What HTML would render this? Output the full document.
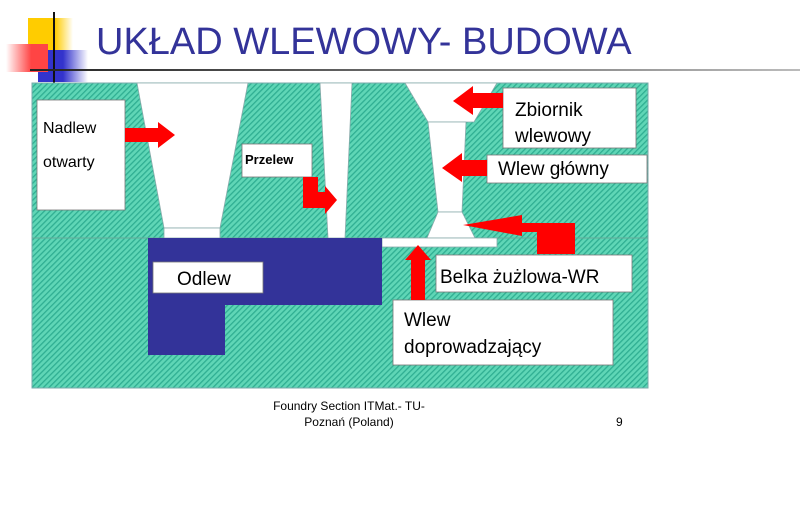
<!DOCTYPE html>
<html><head><meta charset="utf-8"><style>
body{margin:0;width:800px;height:500px;background:#fff;overflow:hidden;font-family:"Liberation Sans",sans-serif}
</style></head><body>
<svg width="800" height="500" viewBox="0 0 800 500" xmlns="http://www.w3.org/2000/svg" font-family="Liberation Sans, sans-serif">
<defs>
<pattern id="h" width="4" height="4" patternUnits="userSpaceOnUse" patternTransform="rotate(45)">
<rect width="4" height="4" fill="#5fd6b6"/><rect width="1.3" height="4" fill="#2fae92"/>
</pattern>
<linearGradient id="gy" x1="0" x2="1"><stop offset="0.6" stop-color="#ffcc00"/><stop offset="1" stop-color="#fff"/></linearGradient>
<linearGradient id="gb" x1="0" x2="1"><stop offset="0.5" stop-color="#3333cc"/><stop offset="1" stop-color="#fff"/></linearGradient>
<linearGradient id="gr" x1="1" x2="0"><stop offset="0.4" stop-color="#ff4444"/><stop offset="1" stop-color="#fff"/></linearGradient>
<linearGradient id="gl" x1="0" x2="1"><stop offset="0" stop-color="#222"/><stop offset="1" stop-color="#bbb"/></linearGradient>
</defs>
<rect x="28" y="18" width="45" height="32" fill="url(#gy)"/>
<rect x="38" y="50" width="50" height="32" fill="url(#gb)"/>
<rect x="6" y="44" width="42" height="28" fill="url(#gr)"/>
<rect x="53" y="12" width="2" height="72" fill="#111"/>
<rect x="30" y="69" width="770" height="2" fill="url(#gl)"/>
<text x="96" y="54" font-size="38" fill="#333399">UKŁAD WLEWOWY- BUDOWA</text>
<rect x="32" y="83" width="616" height="305" fill="url(#h)" stroke="#7aa" stroke-width="1"/>
<line x1="32" y1="238" x2="648" y2="238" stroke="#6a9" stroke-width="1"/>
<g fill="#fff" stroke="#8aa" stroke-width="0.8">
<polygon points="137,83 248,83 220,228 164,228"/>
<rect x="164" y="228" width="56" height="10"/>
<polygon points="320,83 352,83 345,238 328,238"/>
<polygon points="405,83 497,83 474,122 428,122"/>
<polygon points="428,122 466,122 462,212 438,212"/>
<polygon points="438,212 462,212 475,238 427,238"/>
<rect x="382" y="238" width="115" height="9"/>
</g>
<g fill="#333399">
<rect x="148" y="238" width="234" height="67"/>
<rect x="148" y="305" width="77" height="50"/>
</g>
<g fill="#fff" stroke="#777" stroke-width="0.8">
<rect x="37" y="100" width="88" height="110"/>
<rect x="242" y="144" width="70" height="33"/>
<rect x="503" y="88" width="133" height="60"/>
<rect x="487" y="155" width="160" height="28"/>
<rect x="436" y="255" width="196" height="37"/>
<rect x="393" y="300" width="220" height="65"/>
<rect x="153" y="262" width="110" height="31"/>
</g>
<g fill="#000">
<text x="43" y="133" font-size="16">Nadlew</text>
<text x="43" y="167" font-size="16">otwarty</text>
<text x="245" y="164" font-size="13" font-weight="bold">Przelew</text>
<text x="515" y="116" font-size="19">Zbiornik</text>
<text x="515" y="142" font-size="19">wlewowy</text>
<text x="498" y="175" font-size="19">Wlew główny</text>
<text x="440" y="283" font-size="19">Belka żużlowa-WR</text>
<text x="404" y="326" font-size="19">Wlew</text>
<text x="404" y="353" font-size="19">doprowadzający</text>
<text x="177" y="285" font-size="19">Odlew</text>
</g>
<g fill="#ff0000">
<polygon points="125,128 158,128 158,122 175,135 158,148 158,142 125,142"/>
<polygon points="303,177 318,177 318,192 325,192 325,186 337,200 325,214 325,208 303,208"/>
<polygon points="503,93 473,93 473,86 453,101 473,115 473,108 503,108"/>
<polygon points="487,160 462,160 462,153 442,168 462,182 462,176 487,176"/>
<polygon points="575,223 522,223 522,215 463,225 522,236 522,232 537,232 537,254 575,254"/>
<polygon points="411,300 411,260 405,260 418,245 431,260 425,260 425,300"/>
</g>
<text x="349" y="410" font-size="12" text-anchor="middle" fill="#000">Foundry Section ITMat.- TU-</text>
<text x="349" y="426" font-size="12" text-anchor="middle" fill="#000">Poznań (Poland)</text>
<text x="616" y="426" font-size="12" fill="#000">9</text>
</svg>
</body></html>
